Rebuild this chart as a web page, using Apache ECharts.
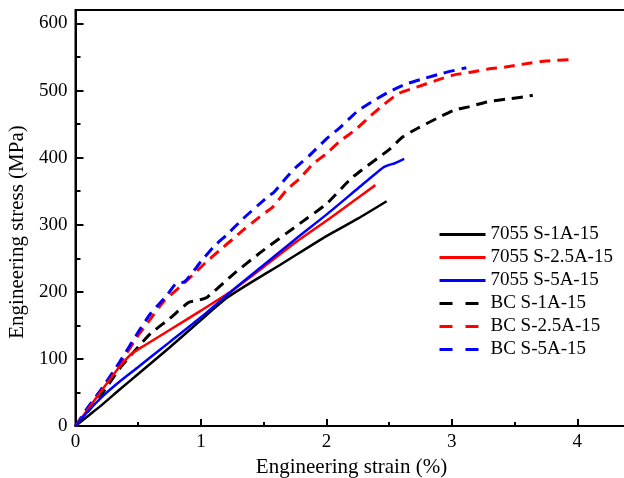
<!DOCTYPE html>
<html>
<head>
<meta charset="utf-8">
<script src="https://cdn.jsdelivr.net/npm/echarts@6/dist/echarts.min.js"></script>
<style>html,body{margin:0;padding:0;background:#fff;}#c{width:624px;height:478px;}</style>
</head>
<body>
<div id="c"></div>
<script>
// Series names
const seriesNames = ['7055 S-1A-15', '7055 S-2.5A-15', '7055 S-5A-15', 'BC S-1A-15', 'BC S-2.5A-15', 'BC S-5A-15'];
// Tick labels
const xTickLabels = [0, 1, 2, 3, 4];
const yTickLabels = [0, 100, 200, 300, 400, 500, 600];
// Data: [strain (%), stress (MPa)]
const s7055_1A = [[0,0],[0.1,15],[0.22,33],[0.35,54],[0.49,76],[0.75,117],[1.0,158],[1.2,190],[1.4,214],[1.63,240],[2.0,283],[2.25,309],[2.48,335]];
const s7055_25A = [[0,0],[0.1,25],[0.22,56],[0.35,88],[0.45,108],[0.55,120],[0.75,143],[1.0,172],[1.25,202],[1.5,237],[1.75,273],[2.0,306],[2.2,333],[2.39,359]];
const s7055_5A = [[0,0],[0.1,22],[0.22,45],[0.35,66],[0.5,88],[0.75,125],[1.0,162],[1.25,202],[1.5,240],[1.75,278],[2.0,315],[2.25,354],[2.45,385],[2.5,389],[2.55,392],[2.62,398]];
const bc_1A = [[0,0],[0.1,22],[0.2,45],[0.35,85],[0.5,118],[0.6,138],[0.75,160],[0.9,184],[0.97,187],[1.05,192],[1.25,225],[1.47,258],[1.79,302],[2.0,331],[2.21,371],[2.5,412],[2.61,431],[2.74,445],[2.876,458],[3.02,471],[3.14,476],[3.28,483],[3.43,487],[3.59,491],[3.645,493]];
const bc_25A = [[0,0],[0.1,26],[0.21,54],[0.35,92],[0.5,135],[0.6,160],[0.7,185],[0.83,207],[0.95,228],[1.04,244],[1.15,262],[1.256,279],[1.336,292],[1.47,312],[1.575,327],[1.68,351],[1.787,369],[1.89,390],[2.0,406],[2.1,423],[2.24,443],[2.345,461],[2.45,478],[2.58,496],[2.72,505],[2.876,515],[3.01,523],[3.14,527],[3.29,532],[3.43,535],[3.59,540],[3.75,544],[3.95,546]];
const bc_5A = [[0,0],[0.1,28],[0.21,56],[0.35,95],[0.5,140],[0.6,168],[0.73,195],[0.8,212],[0.87,215],[1.0,245],[1.1,267],[1.2,284],[1.336,309],[1.455,329],[1.54,343],[1.58,348],[1.68,370],[1.76,386],[1.87,404],[2.0,428],[2.11,445],[2.24,468],[2.36,483],[2.5,498],[2.64,510],[2.78,518],[2.93,526],[3.09,533],[3.115,534]];

const seriesData = [s7055_1A, s7055_25A, s7055_5A, bc_1A, bc_25A, bc_5A];
const colors = ['#000000', '#ff0000', '#0000ff', '#000000', '#ff0000', '#0000ff'];
const dashed = [false, false, false, true, true, true];

const FONT = 'Liberation Serif';
const chart = echarts.init(document.getElementById('c'), null, {renderer: 'canvas'});

const series = seriesNames.map((n, i) => ({
  name: n,
  type: 'line',
  data: seriesData[i],
  showSymbol: false,
  symbol: 'none',
  smooth: 0.2,
  animation: false,
  lineStyle: {color: colors[i], width: dashed[i] ? 3 : 2.5, type: dashed[i] ? [11, 7] : 'solid'},
  itemStyle: {color: colors[i]},
  z: dashed[i] ? 2 : 3
}));

const xLabelSet = new Set(xTickLabels);
const yLabelSet = new Set(yTickLabels);

chart.setOption({
  backgroundColor: '#fff',
  animation: false,
  grid: {left: 75.5, width: 552, top: 10, bottom: 52, show: true, borderColor: '#000', borderWidth: 2,
    containLabel: false, outerBoundsMode: 'none'},
  legend: {
    orient: 'vertical', left: 438, top: 225, padding: 0,
    itemWidth: 46, itemHeight: 2, itemGap: 4,
    itemStyle: {opacity: 0},
    lineStyle: {width: 3, type: [13, 13]},
    textStyle: {fontFamily: FONT, fontSize: 19, color: '#000'},
    data: seriesNames.map((n, i) => dashed[i]
      ? {name: n, icon: 'inherit'}
      : {name: n, icon: 'inherit', lineStyle: {width: 3, type: 'solid'}})
  },
  xAxis: [{
    type: 'value', min: 0, max: 4.4, interval: 1,
    name: 'Engineering strain (%)', nameLocation: 'middle', nameGap: 30,
    nameTextStyle: {fontFamily: FONT, fontSize: 21, color: '#000'},
    axisLine: {show: true, lineStyle: {color: '#000', width: 2}},
    axisTick: {show: true, inside: true, length: 7, lineStyle: {color: '#000', width: 2}},
    axisLabel: {fontFamily: FONT, fontSize: 19, color: '#000', margin: 7,
      formatter: v => xLabelSet.has(Math.round(v * 1000) / 1000) ? String(v) : ''},
    splitLine: {show: false}
  }, {
    type: 'value', min: 0, max: 4.4, interval: 0.5, position: 'bottom', gridIndex: 0,
    axisLine: {show: false},
    axisTick: {show: true, inside: true, length: 4, lineStyle: {color: '#000', width: 2}},
    axisLabel: {show: false}, splitLine: {show: false}
  }],
  yAxis: [{
    type: 'value', min: 0, max: 620, interval: 100,
    name: 'Engineering stress (MPa)', nameLocation: 'middle', nameGap: 48,
    nameTextStyle: {fontFamily: FONT, fontSize: 21, color: '#000', padding: [0, 28, 0, 0]},
    axisLine: {show: true, lineStyle: {color: '#000', width: 2}},
    axisTick: {show: true, inside: true, length: 8, lineStyle: {color: '#000', width: 2}},
    axisLabel: {fontFamily: FONT, fontSize: 19, color: '#000', margin: 8,
      formatter: v => yLabelSet.has(v) ? String(v) : ''},
    splitLine: {show: false}
  }, {
    type: 'value', min: 0, max: 620, interval: 50, position: 'left', gridIndex: 0,
    axisLine: {show: false},
    axisTick: {show: true, inside: true, length: 5, lineStyle: {color: '#000', width: 2}},
    axisLabel: {show: false}, splitLine: {show: false}
  }],
  series: series
});
</script>
</body>
</html>
